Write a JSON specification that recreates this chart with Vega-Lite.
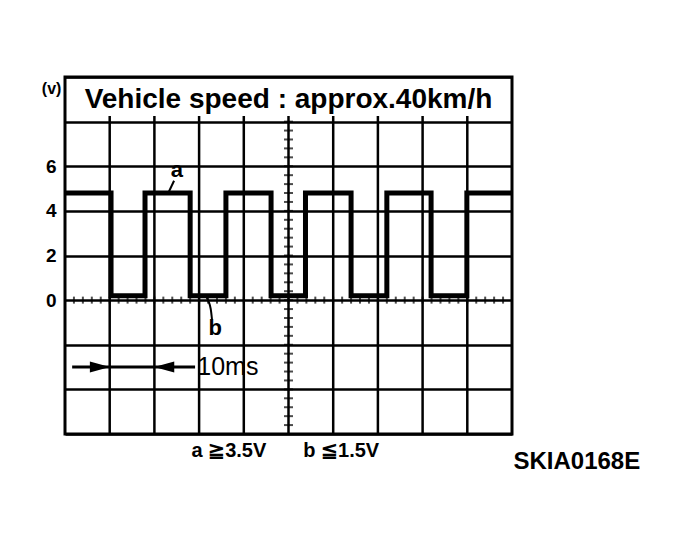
{
  "$schema": "https://vega.github.io/schema/vega-lite/v6.json",
  "autosize": "none",
  "width": 447,
  "height": 357,
  "padding": {"left": 65, "top": 77, "right": 169, "bottom": 111},
  "background": "white",
  "config": {
    "view": {"stroke": "black", "strokeWidth": 3},
    "font": "Liberation Sans",
    "axisY": {
      "grid": true,
      "gridColor": "black",
      "gridWidth": 2.5,
      "gridOpacity": 1,
      "domain": false,
      "ticks": false,
      "labelPadding": 9,
      "labelFont": "Liberation Sans",
      "labelFontSize": 19,
      "labelFontWeight": "bold",
      "labelColor": "black"
    }
  },
  "datasets": {
    "signal": [
      {"ms": 0, "volt": 4.8},
      {"ms": 10.3, "volt": 0.2},
      {"ms": 17.9, "volt": 4.8},
      {"ms": 28.0, "volt": 0.2},
      {"ms": 36.0, "volt": 4.8},
      {"ms": 46.1, "volt": 0.2},
      {"ms": 53.8, "volt": 4.8},
      {"ms": 64.0, "volt": 0.2},
      {"ms": 72.0, "volt": 4.8},
      {"ms": 81.9, "volt": 0.2},
      {"ms": 89.9, "volt": 4.8},
      {"ms": 100, "volt": 4.8}
    ],
    "gridx": [
      {"ms": 10}, {"ms": 20}, {"ms": 30}, {"ms": 40}, {"ms": 50},
      {"ms": 60}, {"ms": 70}, {"ms": 80}, {"ms": 90}
    ],
    "centerTicks": [
      {"v": -6}, {"v": -5.6}, {"v": -5.2}, {"v": -4.8}, {"v": -4.4}, {"v": -4},
      {"v": -3.6}, {"v": -3.2}, {"v": -2.8}, {"v": -2.4}, {"v": -2}, {"v": -1.6},
      {"v": -1.2}, {"v": -0.8}, {"v": -0.4}, {"v": 0}, {"v": 0.4}, {"v": 0.8},
      {"v": 1.2}, {"v": 1.6}, {"v": 2}, {"v": 2.4}, {"v": 2.8}, {"v": 3.2},
      {"v": 3.6}, {"v": 4}, {"v": 4.4}, {"v": 4.8}, {"v": 5.2}, {"v": 5.6},
      {"v": 6}, {"v": 6.4}, {"v": 6.8}, {"v": 7.2}, {"v": 7.6}, {"v": 8}
    ],
    "zeroTicks": [
      {"ms": 0}, {"ms": 2}, {"ms": 4}, {"ms": 6}, {"ms": 8}, {"ms": 10},
      {"ms": 12}, {"ms": 14}, {"ms": 16}, {"ms": 18}, {"ms": 20}, {"ms": 22},
      {"ms": 24}, {"ms": 26}, {"ms": 28}, {"ms": 30}, {"ms": 32}, {"ms": 34},
      {"ms": 36}, {"ms": 38}, {"ms": 40}, {"ms": 42}, {"ms": 44}, {"ms": 46},
      {"ms": 48}, {"ms": 50}, {"ms": 52}, {"ms": 54}, {"ms": 56}, {"ms": 58},
      {"ms": 60}, {"ms": 62}, {"ms": 64}, {"ms": 66}, {"ms": 68}, {"ms": 70},
      {"ms": 72}, {"ms": 74}, {"ms": 76}, {"ms": 78}, {"ms": 80}, {"ms": 82},
      {"ms": 84}, {"ms": 86}, {"ms": 88}, {"ms": 90}, {"ms": 92}, {"ms": 94},
      {"ms": 96}, {"ms": 98}, {"ms": 100}
    ],
    "leaderA": [
      {"ms": 23.1, "volt": 4.8},
      {"ms": 24.4, "volt": 5.35}
    ],
    "leaderB": [
      {"ms": 31.7, "volt": 0.1},
      {"ms": 32.6, "volt": -0.4},
      {"ms": 32.9, "volt": -0.9}
    ],
    "arrowLine": [
      {"ms": 1.6, "volt": -3},
      {"ms": 29.1, "volt": -3}
    ],
    "arrowHeads": [
      {"ms": 7.8, "volt": -3, "dir": "right"},
      {"ms": 22.2, "volt": -3, "dir": "left"}
    ],
    "letters": [
      {"t": "a", "ms": 25.0, "volt": 5.85},
      {"t": "b", "ms": 33.6, "volt": -1.25}
    ]
  },
  "layer": [
    {
      "data": {"name": "signal"},
      "mark": {"type": "line", "interpolate": "step-after", "color": "black", "strokeWidth": 5, "strokeCap": "square", "clip": true},
      "encoding": {
        "x": {"field": "ms", "type": "quantitative", "scale": {"domain": [0, 100], "nice": false, "zero": false}, "axis": null},
        "y": {
          "field": "volt",
          "type": "quantitative",
          "title": null,
          "scale": {"domain": [-6, 10], "nice": false},
          "axis": {
            "values": [-6, -4, -2, 0, 2, 4, 6, 8, 10],
            "labelFontSize": 19,
            "labelExpr": "datum.value >= 0 && datum.value <= 6 ? datum.label : ''"
          }
        }
      }
    },
    {
      "data": {"name": "gridx"},
      "mark": {"type": "rule", "color": "black", "strokeWidth": 2.5},
      "encoding": {
        "x": {"field": "ms", "type": "quantitative", "axis": null},
        "y": {"datum": -6, "type": "quantitative", "title": null},
        "y2": {"datum": 8.25}
      }
    },
    {
      "data": {"name": "centerTicks"},
      "mark": {"type": "tick", "orient": "horizontal", "color": "black", "size": 9, "thickness": 2},
      "encoding": {
        "x": {"datum": 50, "type": "quantitative", "axis": null},
        "y": {"field": "v", "type": "quantitative", "title": null}
      }
    },
    {
      "data": {"name": "zeroTicks"},
      "mark": {"type": "tick", "orient": "vertical", "color": "black", "size": 7, "thickness": 2},
      "encoding": {
        "x": {"field": "ms", "type": "quantitative", "axis": null},
        "y": {"datum": 0, "type": "quantitative", "title": null}
      }
    },
    {
      "data": {"name": "leaderA"},
      "mark": {"type": "line", "color": "black", "strokeWidth": 2},
      "encoding": {
        "x": {"field": "ms", "type": "quantitative", "axis": null},
        "y": {"field": "volt", "type": "quantitative", "title": null}
      }
    },
    {
      "data": {"name": "leaderB"},
      "mark": {"type": "line", "color": "black", "strokeWidth": 2, "interpolate": "monotone"},
      "encoding": {
        "x": {"field": "ms", "type": "quantitative", "axis": null},
        "y": {"field": "volt", "type": "quantitative", "title": null}
      }
    },
    {
      "data": {"name": "arrowLine"},
      "mark": {"type": "line", "color": "black", "strokeWidth": 3},
      "encoding": {
        "x": {"field": "ms", "type": "quantitative", "axis": null},
        "y": {"field": "volt", "type": "quantitative", "title": null}
      }
    },
    {
      "data": {"name": "arrowHeads"},
      "mark": {"type": "point", "filled": true, "color": "black", "opacity": 1, "size": 400},
      "encoding": {
        "x": {"field": "ms", "type": "quantitative", "axis": null},
        "y": {"field": "volt", "type": "quantitative", "title": null},
        "shape": {
          "field": "dir",
          "type": "nominal",
          "scale": {"domain": ["right", "left"], "range": ["M1,0L-1,-0.55L-1,0.55Z", "M-1,0L1,-0.55L1,0.55Z"]},
          "legend": null
        }
      }
    },
    {
      "data": {"name": "letters"},
      "mark": {"type": "text", "font": "Liberation Sans", "fontSize": 22, "fontWeight": "bold", "color": "black"},
      "encoding": {
        "x": {"field": "ms", "type": "quantitative", "axis": null},
        "y": {"field": "volt", "type": "quantitative", "title": null},
        "text": {"field": "t"}
      }
    },
    {
      "data": {"values": [{"label": "Vehicle speed : approx.40km/h", "ms": 50, "volt": 8.95}]},
      "mark": {"type": "text", "font": "Liberation Sans", "fontSize": 28, "fontWeight": "bold", "color": "black", "baseline": "middle"},
      "encoding": {
        "x": {"field": "ms", "type": "quantitative", "axis": null},
        "y": {"field": "volt", "type": "quantitative", "title": null},
        "text": {"field": "label"}
      }
    },
    {
      "data": {"values": [{"label": "10ms", "ms": 29.6, "volt": -3}]},
      "mark": {"type": "text", "font": "Liberation Sans", "fontSize": 25, "align": "left", "baseline": "middle", "color": "black"},
      "encoding": {
        "x": {"field": "ms", "type": "quantitative", "axis": null},
        "y": {"field": "volt", "type": "quantitative", "title": null},
        "text": {"field": "label"}
      }
    },
    {
      "data": {"values": [{"label": "(v)", "ms": -3.0, "volt": 9.45}]},
      "mark": {"type": "text", "font": "Liberation Sans", "fontSize": 16, "fontWeight": "bold", "baseline": "middle", "color": "black", "clip": false},
      "encoding": {
        "x": {"field": "ms", "type": "quantitative", "axis": null},
        "y": {"field": "volt", "type": "quantitative", "title": null},
        "text": {"field": "label"}
      }
    },
    {
      "data": {"values": [
        {"label": "a ≧3.5V", "ms": 28.3, "volt": -6.75},
        {"label": "b ≦1.5V", "ms": 53.3, "volt": -6.75}
      ]},
      "mark": {"type": "text", "font": "Liberation Sans", "fontSize": 20, "fontWeight": "bold", "align": "left", "baseline": "middle", "color": "black"},
      "encoding": {
        "x": {"field": "ms", "type": "quantitative", "axis": null},
        "y": {"field": "volt", "type": "quantitative", "title": null},
        "text": {"field": "label"}
      }
    },
    {
      "data": {"values": [{"label": "SKIA0168E", "ms": 114.5, "volt": -7.25}]},
      "mark": {"type": "text", "font": "Liberation Sans", "fontSize": 24, "fontWeight": "bold", "align": "center", "baseline": "middle", "color": "black"},
      "encoding": {
        "x": {"field": "ms", "type": "quantitative", "axis": null},
        "y": {"field": "volt", "type": "quantitative", "title": null},
        "text": {"field": "label"}
      }
    }
  ]
}
